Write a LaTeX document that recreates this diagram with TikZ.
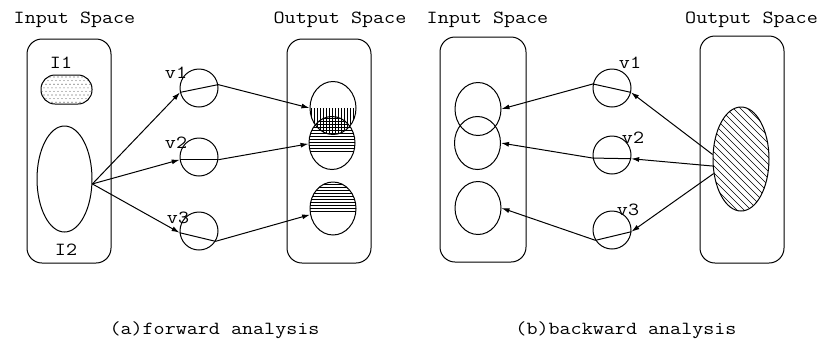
\documentclass[tikz,border=0pt]{standalone}
\usepackage{fontspec}
\usetikzlibrary{arrows.meta,shapes.geometric}
\newcommand\ctxt[1]{\scalebox{1.16}[1]{#1}}
\begin{document}
\begin{tikzpicture}[x=1pt,y=-1pt,
  lw/.style={line width=1pt},
  txt/.style={font=\ttfamily\fontsize{18.5}{20}\selectfont, inner sep=0pt, anchor=base},
  spacebox/.style={draw, lw, rounded corners=15pt, minimum width=84pt, minimum height=224pt, inner sep=0pt},
  region/.style={draw, lw, ellipse, minimum width=46pt, minimum height=53pt, inner sep=0pt},
  vnode/.style={draw, lw, circle, minimum size=38pt, inner sep=0pt},
  arr/.style={lw, -{Latex[length=8pt,width=5pt]}},
  hatch/.style={line width=0.6pt}
]
\useasboundingbox (0,0) rectangle (821,341);

% headers and captions
\node[txt] (inA) at (74.5,23) {\ctxt{Input Space}};
\node[txt] (outA) at (340,23) {\ctxt{Output Space}};
\node[txt] (inB) at (487.5,23) {\ctxt{Input Space}};
\node[txt] (outB) at (751.5,23) {\ctxt{Output Space}};
\node[txt] (capA) at (214.5,334) {\ctxt{(a)forward analysis}};
\node[txt] (capB) at (626,334) {\ctxt{(b)backward analysis}};

% space boxes
\node[spacebox] (boxAin) at (69,151) {};
\node[spacebox] (boxAout) at (329,151) {};
\node[spacebox, minimum width=86pt, minimum height=225pt] (boxBin) at (483,149.5) {};
\node[spacebox, minimum height=227pt] (boxBout) at (742,149.5) {};

% ---------- (a) forward analysis ----------
\begin{scope}
  \clip[rounded corners=14pt] (41,75) rectangle (92,104);
  \foreach \j in {0,...,7} {
    \foreach \i in {0,...,13} {
      \fill[black!75] ({42+\i*4+mod(\j,2)*2},{77+\j*3.6}) circle [radius=0.55pt];
    }
  }
\end{scope}
\node[draw, lw, rounded corners=14pt, minimum width=51pt, minimum height=29pt, inner sep=0pt] (I1) at (66.5,89.5) {};
\node[txt] (I1lab) at (61,68) {\ctxt{I1}};
\node[draw, lw, ellipse, minimum width=55pt, minimum height=106pt, inner sep=0pt] (I2) at (64.5,179) {};
\node[txt] (I2lab) at (66,255) {\ctxt{I2}};

\node[vnode] (v1) at (199,88) {};
\node[vnode] (v2) at (199,157) {};
\node[vnode] (v3) at (199,231) {};
\node[txt] (v1lab) at (176,78) {\ctxt{v1}};
\node[txt] (v2lab) at (176,148) {\ctxt{v2}};
\node[txt] (v3lab) at (178,223) {\ctxt{v3}};

% hatching of output regions
\begin{scope}
  \clip (333,108) ellipse [x radius=23pt, y radius=26.5pt];
  \clip (300,108) rectangle (370,140);
  \foreach \x in {311,314,...,356} \draw[hatch] (\x,106) -- (\x,140);
\end{scope}
\begin{scope}
  \clip (332,143) ellipse [x radius=23pt, y radius=26.5pt];
  \clip (300,110) rectangle (370,151);
  \foreach \y in {118,121,...,151} \draw[hatch] (305,\y) -- (360,\y);
\end{scope}
\begin{scope}
  \clip (333,208.5) ellipse [x radius=23pt, y radius=26.5pt];
  \clip (300,180) rectangle (370,213);
  \foreach \y in {184,187,...,213} \draw[hatch] (305,\y) -- (360,\y);
\end{scope}

\node[region] (A) at (333,108) {};
\node[region] (B) at (332,143) {};
\node[region] (C) at (333,208.5) {};

\draw[arr] (I2.350) -- (v1.193);
\draw[lw] (v1.193) -- (v1.10);
\draw[arr] (v1.10) -- (A.180);
\draw[arr] (I2.350) -- (v2.188);
\draw[lw] (v2.188) -- (v2.352);
\draw[arr] (v2.352) -- (B.182);
\draw[arr] (I2.350) -- (v3.185);
\draw[lw] (v3.185) -- (v3.328);
\draw[arr] (v3.328) -- (C.195);

% ---------- (b) backward analysis ----------
\node[region] (P1) at (478,109) {};
\node[region] (P2) at (477.5,143) {};
\node[region] (P3) at (478,208) {};

\node[vnode] (w1) at (612,88) {};
\node[vnode] (w2) at (612,155) {};
\node[vnode] (w3) at (612,230) {};
\node[txt] (w1lab) at (630,68) {\ctxt{v1}};
\node[txt] (w2lab) at (633,143) {\ctxt{v2}};
\node[txt] (w3lab) at (628,215) {\ctxt{v3}};

\begin{scope}
  \clip (741,159) ellipse [x radius=28pt, y radius=52pt];
  \foreach \k in {-90,-83,...,90} \draw[hatch] ({741+\k-60},99) -- ({741+\k+60},219);
\end{scope}
\node[draw, lw, ellipse, minimum width=56pt, minimum height=104pt, inner sep=0pt] (E) at (741,159) {};

\draw[arr] (E.171) -- (w1.347);
\draw[lw] (w1.347) -- (w1.168);
\draw[arr] (w1.168) -- (P1.east);
\draw[arr] (E.194) -- (w2.349);
\draw[lw] (w2.349) -- (w2.189);
\draw[arr] (w2.189) -- (P2.east);
\draw[arr] (E.208) -- (w3.355);
\draw[lw] (w3.355) -- (w3.212);
\draw[arr] (w3.212) -- (P3.east);
\end{tikzpicture}
\end{document}
